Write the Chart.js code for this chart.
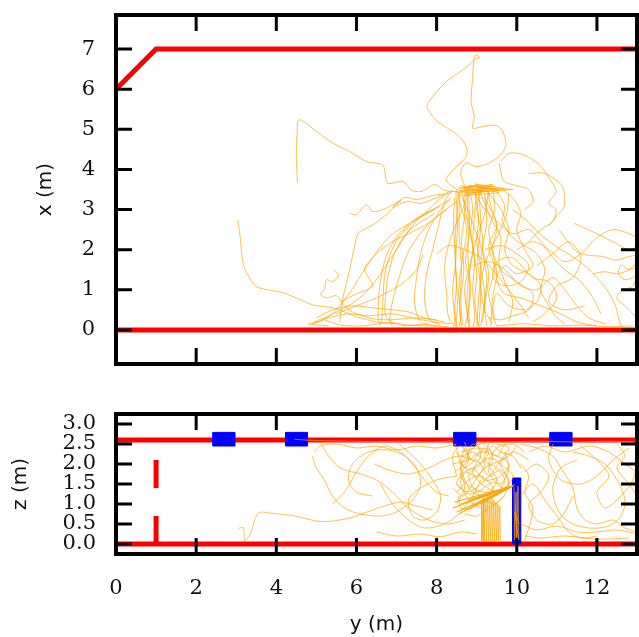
<!DOCTYPE html>
<html><head><meta charset="utf-8">
<script src="https://cdn.jsdelivr.net/npm/chart.js@4.4.1/dist/chart.umd.min.js"></script>
<style>
html,body{margin:0;padding:0;background:#fff;width:639px;height:637px;overflow:hidden}
#top{position:absolute;left:0;top:0}
#bot{position:absolute;left:0;top:380px}
</style></head><body>
<canvas id="top" width="639" height="380"></canvas>
<canvas id="bot" width="639" height="257"></canvas>
<script>
// ---------- axis ticks ----------
const yAxisTicks = [0,2,4,6,8,10,12];          // horizontal axis "y (m)"
const xAxisTicks = [0,1,2,3,4,5,6,7];          // top panel vertical "x (m)"
const zAxisTicks = [0,0.5,1,1.5,2,2.5,3];      // bottom panel vertical "z (m)"

// ---------- room geometry ----------
const wallFloorTop = [[0,0],[13,0]];
const wallSideTop = [[0,6],[1,7],[13,7]];
const floorLine = [[0,0],[13,0]];
const ceilingLine = [[0,2.6],[13,2.6]];
const doorLow = [[1,0],[1,0.7]];
const doorHigh = [[1,1.4],[1,2.1]];
const lampLeft = [2.42,4.23,8.43,10.83];
const lampRight = [2.97,4.78,8.98,11.38];
const lampBottom = 2.45, lampTop = 2.79;
const barY = [9.9,10.1], barZ = [0,1.65];

// ---------- top panel trajectories [y, x] ----------
const tp1 = [[3.04,2.74],[3.1,2.3],[3.17,1.66],[3.3,1.35],[3.5,1.08],[3.9,0.98],[4.17,0.93],[4.6,0.75],[4.92,0.62],[5.4,0.55],[5.7,0.45],[6.0,0.33],[6.5,0.2],[7.0,0.15]];
const tp2 = [[4.53,3.66],[4.5,4.3],[4.52,4.9],[4.57,5.24],[5.0,4.95],[5.42,4.65],[5.83,4.45],[6.24,4.2],[6.66,4.1],[6.78,3.66],[7.16,3.7],[7.36,3.49],[7.61,3.45],[7.95,3.62],[8.2,3.48],[8.5,3.45],[8.8,3.52]];
const tp3 = [[8.5,3.5],[8.24,3.74],[8.49,4.07],[8.74,4.32],[8.74,4.57],[8.57,4.82],[8.24,5.05],[7.99,5.22],[7.82,5.45],[7.76,5.6],[7.94,5.86],[8.24,6.19],[8.65,6.48],[8.9,6.69],[8.98,6.86],[9.07,6.78],[8.94,6.73],[8.9,6.28],[8.86,5.69],[8.94,5.32],[8.9,5.03],[9.15,5.07],[9.48,5.1],[9.65,4.95],[9.73,4.61],[9.6,4.37],[9.31,4.16],[8.98,4.07],[8.73,4.16],[8.6,3.9],[8.7,3.6]];
const tp4 = [[5.83,2.91],[6.0,2.87],[6.24,3.12],[6.41,2.95],[6.66,3.0],[6.91,3.12],[7.12,3.24],[6.9,3.05],[7.2,3.3],[7.5,3.25],[7.9,3.35],[8.3,3.4]];
const tp5 = [[5.58,0.2],[5.67,0.83],[5.83,1.49],[5.95,2.08],[6.04,2.41],[6.16,2.49],[6.41,2.62],[6.74,2.87],[7.0,3.1],[7.3,3.2],[7.6,3.15],[8.0,3.3],[8.4,3.45]];
const tp6 = [[8.07,3.08],[7.57,2.83],[7.07,2.41],[6.74,1.83],[6.58,1.08],[6.54,0.25],[6.6,0.1]];
const tp7 = [[8.24,3.0],[7.74,2.58],[7.32,2.0],[7.07,1.33],[6.91,0.75],[6.83,0.25],[6.9,0.1]];
const tp8 = [[8.32,3.24],[7.49,2.75],[6.83,2.33],[6.25,1.58],[5.83,0.92],[5.42,0.42],[5.08,0.21],[4.8,0.15],[5.3,0.1]];
const tp9 = [[7.95,3.0],[7.49,2.74],[7.07,2.33],[6.82,1.83],[6.7,1.33],[6.66,0.75],[6.62,0.17]];
const tp10 = [[7.95,2.9],[7.32,2.49],[6.99,2.0],[6.82,1.5],[6.74,1.0],[6.74,0.33],[7.1,0.12],[7.8,0.15]];
const tp11 = [[5.45,1.5],[5.55,1.35],[5.4,1.2],[5.25,1.25],[5.2,1.0],[5.1,0.9],[5.25,0.8],[5.5,0.85],[5.7,0.6],[5.9,0.45],[6.3,0.3],[6.8,0.25],[7.5,0.3],[8.0,0.25]];
const tp12 = [[4.9,0.15],[5.3,0.3],[5.8,0.4],[6.3,0.35],[6.9,0.4],[7.4,0.3],[7.9,0.2],[8.4,0.15]];
const tp13 = [[5.2,0.25],[5.6,0.12],[6.2,0.1],[6.8,0.18],[7.3,0.12],[7.8,0.1],[8.3,0.08]];
const tp14 = [[5.0,0.3],[5.4,0.5],[5.9,0.6],[6.4,0.55],[6.9,0.5],[7.3,0.45],[7.7,0.3],[8.2,0.2]];
const tv1 = [[8.55,3.4],[8.5,2.8],[8.45,2.0],[8.5,1.2],[8.45,0.5],[8.5,0.05]];
const tv2 = [[8.65,3.45],[8.7,2.9],[8.62,2.2],[8.68,1.5],[8.6,0.8],[8.65,0.1]];
const tv3 = [[8.75,3.5],[8.8,2.7],[8.9,2.0],[8.8,1.3],[8.75,0.6],[8.8,0.05]];
const tv4 = [[8.85,3.4],[8.9,3.0],[8.85,2.4],[8.95,1.8],[8.9,1.0],[8.95,0.3],[8.9,0.05]];
const tv5 = [[8.95,3.45],[9.05,2.8],[9.0,2.2],[9.1,1.5],[9.05,0.8],[9.0,0.1]];
const tv6 = [[9.1,3.5],[9.0,3.0],[9.15,2.3],[9.1,1.6],[9.2,0.9],[9.15,0.2]];
const tv7 = [[9.2,3.4],[9.25,2.7],[9.15,2.0],[9.25,1.3],[9.2,0.5],[9.25,0.1]];
const tv8 = [[8.5,3.5],[8.6,3.1],[8.75,2.5],[8.65,1.8],[8.55,1.0],[8.6,0.3],[8.55,0.05]];
const tv9 = [[9.3,3.45],[9.2,2.9],[9.0,2.3],[8.85,1.7],[8.7,1.0],[8.8,0.2]];
const tv10 = [[8.6,3.4],[8.85,2.8],[9.1,2.1],[9.3,1.4],[9.2,0.7],[9.1,0.1]];
const tv11 = [[8.45,3.3],[8.42,2.5],[8.48,1.8],[8.4,1.0],[8.45,0.3],[8.42,0.05]];
const tv12 = [[9.4,3.5],[9.45,3.0],[9.3,2.5],[9.4,1.9],[9.5,1.4],[9.4,0.8],[9.35,0.1]];
const tv13 = [[8.7,3.55],[8.72,3.0],[8.8,2.4],[8.72,1.7],[8.85,1.1],[8.78,0.4],[8.7,0.05]];
const tv14 = [[9.0,3.5],[8.95,2.9],[8.9,2.1],[9.0,1.4],[8.95,0.7],[9.05,0.05]];
const tv15 = [[8.48,3.45],[8.52,2.6],[8.47,1.6],[8.52,0.7],[8.48,0.05]];
const tv16 = [[8.58,3.5],[8.56,2.5],[8.62,1.5],[8.57,0.5],[8.62,0.05]];
const tv17 = [[9.05,3.5],[9.1,2.6],[9.02,1.8],[9.1,1.0],[9.05,0.05]];
const tv18 = [[8.8,3.45],[8.82,2.6],[8.78,1.9],[8.83,1.2],[8.8,0.5],[8.83,0.05]];
const tv19 = [[9.25,3.55],[9.35,3.1],[9.5,2.6],[9.3,2.1],[9.45,1.5],[9.3,0.9],[9.45,0.3]];
const tl1 = [[9.3,3.4],[9.6,3.0],[9.8,2.5],[9.7,2.0],[9.9,1.6],[10.3,1.4],[10.6,1.1],[10.5,0.7],[10.2,0.5],[9.8,0.6],[9.5,0.9],[9.4,0.4],[9.5,0.1]];
const tl2 = [[9.5,3.45],[9.7,3.1],[9.65,2.7],[9.9,2.3],[10.2,2.1],[10.5,1.9],[10.7,1.5],[10.6,1.0],[10.8,0.6],[11.0,0.3],[11.2,0.15]];
const tl3 = [[9.2,3.3],[9.5,2.6],[9.4,2.0],[9.6,1.5],[10.0,1.2],[10.4,0.9],[10.3,0.5],[9.9,0.35],[9.6,0.25],[9.3,0.3]];
const tl4 = [[9.65,3.5],[9.9,3.3],[10.1,2.9],[10.0,2.5],[10.2,2.0],[10.4,1.6],[10.0,1.4],[9.7,1.6],[9.5,1.3],[9.7,0.9],[10.1,0.8],[10.6,0.6],[11.1,0.4],[11.5,0.2],[12.0,0.1]];
const tl5 = [[9.8,3.4],[9.75,2.9],[9.55,2.4],[9.3,1.9],[9.1,1.2],[9.2,0.5],[9.4,0.15]];
const tl6 = [[9.9,3.0],[10.23,2.74],[10.56,2.41],[10.98,2.08],[11.39,1.83],[11.72,1.58],[12.05,1.25],[12.3,0.92],[12.47,0.58],[12.55,0.25],[12.6,0.1]];
const tl7 = [[11.06,2.49],[11.31,2.16],[11.5,1.95],[11.72,1.87],[12.14,1.83],[12.47,1.74],[12.8,1.83],[13.0,1.87]];
const tl8 = [[11.43,2.66],[11.97,2.41],[12.47,2.16],[12.8,1.99],[13.0,2.08]];
const tl9 = [[13.0,1.58],[12.8,1.5],[12.6,1.62],[12.55,1.37],[12.72,1.25],[12.97,1.33],[12.88,1.08],[12.65,1.0],[12.5,0.8],[12.7,0.6],[12.9,0.4],[13.0,0.3]];
const tl10 = [[11.9,1.4],[12.2,1.45],[12.5,1.4],[12.8,1.5],[13.0,1.7]];
const tl11 = [[9.6,4.2],[9.81,4.4],[10.15,4.37],[10.56,4.12],[10.81,3.78],[10.98,3.45],[10.8,3.16],[10.98,2.99],[10.9,2.7],[10.6,2.5],[10.3,2.2]];
const tl12 = [[10.3,3.9],[10.7,3.9],[11.14,3.57],[11.18,3.07],[11.0,2.85],[10.8,2.6]];
const tl13 = [[9.56,4.16],[9.6,3.95],[9.69,3.7],[9.98,3.6],[10.3,3.5],[10.4,3.2],[10.2,3.0]];
const tl14 = [[9.2,2.0],[9.6,2.1],[10.0,1.9],[10.3,1.6],[10.1,1.2],[9.7,1.1],[9.4,1.3],[9.5,1.7],[9.9,1.8],[10.4,1.3],[10.8,1.2],[11.0,0.8],[10.7,0.4],[10.4,0.2]];
const tl15 = [[8.9,1.6],[9.3,1.7],[9.7,1.5],[10.1,1.1],[10.5,1.0],[10.9,1.3],[11.2,1.0],[11.5,0.6],[11.8,0.3],[12.2,0.15]];
const tl16 = [[9.5,0.1],[10.2,0.15],[10.9,0.1],[11.6,0.12],[12.3,0.08],[12.9,0.1]];
const tl17 = [[8.0,1.9],[8.3,2.1],[8.7,2.0],[9.1,1.8],[9.4,1.5],[9.8,1.0],[10.1,0.6],[10.3,0.3]];
const tl18 = [[8.4,3.5],[8.2,3.2],[8.05,2.6],[7.9,2.0],[7.75,1.4],[7.7,0.8],[7.8,0.3],[8.1,0.1]];
const tl19 = [[7.66,1.87],[7.5,1.5],[7.2,1.2],[6.9,1.0],[6.5,0.8],[6.0,0.6],[5.5,0.4]];
const tl20 = [[8.3,3.45],[7.9,3.1],[7.4,2.6],[7.0,2.0],[6.6,1.4],[6.2,0.9],[5.8,0.6],[5.3,0.35],[4.95,0.2]];
const tl21 = [[8.35,3.3],[8.1,3.0],[7.8,2.5],[7.6,1.9],[7.5,1.3],[7.45,0.7],[7.6,0.2],[8.0,0.1]];
const tl22 = [[9.1,3.4],[9.35,2.8],[9.6,2.3],[9.55,1.7],[9.7,1.2],[9.9,0.7],[9.8,0.2]];
const tl23 = [[8.8,3.4],[8.6,2.9],[8.35,2.3],[8.2,1.6],[8.25,0.9],[8.3,0.3],[8.5,0.08]];
const tl24 = [[8.9,3.5],[9.2,3.0],[9.5,2.7],[9.9,2.4],[10.3,2.5],[10.6,2.2],[10.9,1.8],[11.2,1.5],[11.6,1.2],[11.9,0.8],[12.1,0.4]];
const tl25 = [[10.0,2.0],[10.4,2.2],[10.8,2.0],[11.2,1.7],[11.6,1.9],[12.0,2.3],[12.4,2.5],[12.8,2.4],[13.0,2.3]];
const tl26 = [[10.5,1.6],[10.9,1.9],[11.3,2.2],[11.6,1.8],[11.4,1.3],[11.0,1.1],[10.8,0.7],[11.2,0.5],[11.7,0.6]];
const tl27 = [[5.6,0.7],[6.0,0.9],[6.4,1.1],[6.2,1.5],[6.5,1.9],[6.9,2.2],[7.3,2.4],[7.7,2.6],[8.1,2.9],[8.5,3.2]];
const tn1 = [[8.5,3.5],[9.0,3.6],[8.6,3.45],[9.3,3.55],[8.7,3.4],[9.5,3.5],[8.8,3.6],[9.6,3.48],[8.9,3.42],[9.9,3.5],[9.0,3.55],[9.4,3.62],[8.55,3.55]];
const tn2 = [[8.6,3.6],[9.2,3.45],[8.65,3.55],[9.45,3.58],[8.75,3.48],[9.7,3.52],[8.95,3.64],[9.55,3.42],[8.7,3.35],[9.25,3.5],[8.5,3.42]];

// ---------- bottom panel trajectories [y, z] ----------
const bp1 = [[3.06,0.39],[3.18,0.41],[3.21,0.08],[3.34,0.23],[3.55,0.77],[3.88,0.77],[4.46,0.7],[5.12,0.56],[5.79,0.64],[6.29,0.81],[6.7,0.95],[7.1,1.05],[7.5,0.95],[7.9,0.85]];
const bp2 = [[4.45,2.62],[4.7,2.6],[5.2,2.58],[5.8,2.57],[6.5,2.56],[7.2,2.57],[7.9,2.55],[8.4,2.58]];
const bp3 = [[9.0,2.56],[9.7,2.55],[10.4,2.57],[11.0,2.56],[11.6,2.55],[12.3,2.57],[13.0,2.55]];
const bp4 = [[4.95,2.3],[5.1,2.45],[5.5,2.5],[6.0,2.4],[6.5,2.45],[7.0,2.35],[7.5,2.45],[8.0,2.4],[8.5,2.5]];
const bp5 = [[4.9,2.2],[5.0,1.9],[5.2,1.6],[5.4,1.2],[5.7,0.9],[6.1,0.75],[6.6,0.7],[7.0,0.8],[7.4,1.1],[7.6,1.5],[7.5,1.9],[7.2,2.2],[6.8,2.35],[6.3,2.3],[5.9,2.0],[5.8,1.6],[6.0,1.3],[6.4,1.2]];
const bp6 = [[5.1,2.55],[5.3,2.2],[5.6,1.9],[6.1,1.75],[6.5,1.6],[6.9,1.3],[7.3,0.9],[7.8,0.6],[8.3,0.5],[8.7,0.6]];
const bp7 = [[5.4,1.0],[5.7,1.3],[6.0,1.8],[6.3,2.2],[6.7,2.45],[7.1,2.3],[7.4,2.0],[7.7,1.6],[8.0,1.3],[8.3,1.2]];
const bp8 = [[6.45,2.0],[6.8,1.85],[7.3,1.75],[7.8,1.9],[8.2,2.1],[8.6,2.2],[9.0,2.05]];
const bp9 = [[6.5,0.3],[7.0,0.2],[7.6,0.25],[8.1,0.18],[8.6,0.3],[9.0,0.25]];
const bp10 = [[6.6,1.5],[6.9,1.0],[7.3,0.6],[7.7,0.4],[8.2,0.5],[8.6,0.8],[8.9,1.2],[9.1,1.6]];
const bp11 = [[7.0,2.55],[7.3,2.3],[7.6,2.0],[7.9,1.6],[8.1,1.2],[8.0,0.8],[7.7,0.6],[7.4,0.7],[7.3,1.1],[7.6,1.4],[8.0,1.6],[8.5,1.7]];
const bd1 = [[8.45,2.5],[8.6,2.2],[8.9,2.3],[9.2,2.0],[9.0,1.7],[8.7,1.8],[8.5,1.5],[8.8,1.3],[9.1,1.5],[9.4,1.8],[9.6,2.1],[9.8,2.4],[9.5,2.5]];
const bd2 = [[8.5,1.0],[8.7,1.4],[8.6,1.9],[8.9,2.4],[9.2,2.5],[9.4,2.2],[9.3,1.8],[9.6,1.5],[9.8,1.9],[9.7,2.3]];
const bd3 = [[8.4,2.0],[8.8,2.1],[9.1,2.3],[9.5,2.2],[9.8,2.0],[9.6,1.7],[9.2,1.6],[8.9,1.9],[8.6,1.6],[8.8,1.1],[9.1,0.9]];
const bd4 = [[8.7,2.55],[8.8,2.1],[8.6,1.7],[8.9,1.4],[9.3,1.3],[9.5,1.6],[9.3,2.0],[9.5,2.4],[9.9,2.5],[10.2,2.3]];
const bd5 = [[9.0,2.55],[9.1,2.2],[8.9,1.8],[9.2,1.45],[9.6,1.3],[9.8,1.6],[9.6,2.0],[9.9,2.3],[10.3,2.1]];
const bd6 = [[8.5,1.3],[8.8,1.6],[9.1,1.7],[9.4,1.4],[9.2,1.1],[8.9,0.9],[8.6,0.9],[8.55,1.2]];
const bd7 = [[8.6,2.3],[9.0,2.4],[9.3,2.3],[9.1,2.0],[8.8,1.7],[9.0,1.3],[9.4,1.0],[9.7,1.2]];
const bd8 = [[9.3,2.5],[9.2,2.1],[9.5,1.9],[9.7,1.6],[9.5,1.3],[9.1,1.2],[8.8,1.4],[8.6,2.0],[8.7,2.4]];
const bd9 = [[8.45,1.8],[8.7,2.0],[8.9,2.5],[9.2,2.3],[9.4,2.45],[9.6,2.3],[9.9,2.2],[10.1,1.9]];
const bd10 = [[8.5,2.3],[8.7,1.9],[9.0,2.1],[9.3,1.7],[9.6,1.85],[9.8,1.5],[9.6,1.1],[9.3,0.9],[9.0,0.7],[8.7,0.75]];
const bd11 = [[8.4,1.4],[8.65,1.2],[8.9,1.5],[9.2,1.9],[9.5,2.05],[9.8,2.2],[10.0,2.45]];
const bd12 = [[9.7,2.5],[9.5,2.2],[9.2,2.4],[8.9,2.1],[8.6,2.45],[8.4,2.2],[8.5,1.7]];
const bd13 = [[8.55,2.1],[8.8,1.85],[9.05,2.0],[9.35,2.15],[9.65,1.95],[9.9,1.7],[9.7,1.4],[9.4,1.55],[9.1,1.35],[8.8,1.25],[8.5,1.5]];
const bfan = [[9.9,1.45],[8.4,0.9],[9.9,1.45],[8.5,0.8],[9.9,1.45],[8.6,1.0],[9.9,1.45],[8.7,0.85],[9.9,1.45],[8.8,1.1],[9.9,1.45],[8.9,0.95],[9.9,1.45],[9.0,1.15],[9.9,1.45],[9.1,1.0],[9.9,1.45],[9.2,1.2],[9.9,1.45],[8.45,1.05],[9.9,1.45],[8.55,0.75],[9.9,1.45],[9.3,1.15]];
const bvert = [[9.12,1.1],[9.13,0.05],[9.17,1.15],[9.18,0.05],[9.23,1.1],[9.24,0.05],[9.28,1.2],[9.29,0.05],[9.33,1.1],[9.34,0.05],[9.38,1.15],[9.39,0.05],[9.43,1.1],[9.44,0.05],[9.48,1.05],[9.49,0.05],[9.53,1.0],[9.54,0.05],[9.58,0.95],[9.59,0.05]];
const bbar = [[9.93,1.5],[9.95,0.1],[9.98,1.3],[10.0,0.1],[10.03,1.45],[10.05,0.1],[9.95,0.8],[10.06,0.5]];
const br1 = [[10.1,2.5],[10.5,2.4],[10.9,2.2],[11.1,1.9],[11.4,1.4],[11.5,0.9],[11.7,0.6],[12.0,0.5],[12.4,0.6],[12.7,0.4],[13.0,0.3]];
const br2 = [[11.4,2.3],[11.8,2.2],[12.2,2.0],[12.5,1.6],[12.7,1.1],[12.6,0.7],[12.3,0.45],[11.8,0.4],[11.3,0.55],[11.0,0.9],[10.9,1.4],[11.1,1.9],[11.5,2.1]];
const br3 = [[10.1,0.5],[10.5,0.35],[11.0,0.45],[11.5,0.3],[12.0,0.3],[12.5,0.35],[13.0,0.25]];
const br4 = [[10.2,1.8],[10.5,2.0],[10.8,1.7],[10.6,1.3],[10.3,1.0],[10.5,0.6],[10.9,0.5],[11.2,0.8],[11.4,1.2]];
const br5 = [[10.3,2.3],[10.7,2.45],[11.2,2.3],[11.8,2.45],[12.3,2.3],[12.7,2.0],[13.0,1.8]];
const br6 = [[11.6,2.45],[12.0,2.1],[12.3,1.7],[12.0,1.3],[12.2,0.9],[12.6,1.2],[12.9,1.6],[13.0,2.1]];
const br7 = [[10.1,1.2],[10.4,1.5],[10.7,1.1],[11.0,0.7],[11.3,0.3],[11.6,0.15],[12.0,0.2]];
const br8 = [[12.5,2.5],[12.7,2.2],[12.5,1.9],[12.8,1.5],[13.0,1.2]];
const br9 = [[10.2,0.2],[10.6,0.15],[11.2,0.2],[12.0,0.12],[12.8,0.15]];
const br10 = [[10.1,2.0],[10.3,1.7],[10.2,1.3],[10.4,0.9],[10.3,0.4],[10.2,0.1]];
const br11 = [[10.9,2.5],[10.8,2.1],[11.1,1.6],[11.6,1.5],[12.0,1.7],[12.4,2.1],[12.8,2.4]];

const topSmooth = [tp1,tp2,tp3,tp4,tp5,tp6,tp7,tp8,tp9,tp10,tp11,tp12,tp13,tp14,tv1,tv2,tv3,tv4,tv5,tv6,tv7,tv8,tv9,tv10,tv11,tv12,tv13,tv14,tv15,tv16,tv17,tv18,tv19,tl1,tl2,tl3,tl4,tl5,tl6,tl7,tl8,tl9,tl10,tl11,tl12,tl13,tl14,tl15,tl16,tl17,tl18,tl19,tl20,tl21,tl22,tl23,tl24,tl25,tl26,tl27];
const topSharp = [tn1,tn2];
const botSmooth = [bp1,bp2,bp3,bp4,bp5,bp6,bp7,bp8,bp9,bp10,bp11,bd1,bd2,bd3,bd4,bd5,bd6,bd7,bd8,bd9,bd10,bd11,bd12,bd13,br1,br2,br3,br4,br5,br6,br7,br8,br9,br10,br11];
const botSharp = [bfan,bvert,bbar];

// ---------- helpers ----------
const ORANGE = 'rgba(255,165,0,0.7)';
const pts = a => a.map(p => ({x:p[0], y:p[1]}));
const traj = (a,t) => ({data:pts(a), showLine:true, borderColor:ORANGE, borderWidth:1, pointRadius:0, tension:t, fill:false, order:1});
const red = a => ({data:pts(a), showLine:true, borderColor:'#ff0000', borderWidth:5, pointRadius:0, tension:0, fill:false, order:3});
const blueShape = a => ({data:pts(a), showLine:true, borderColor:'#0000ff', backgroundColor:'#0000ff', borderWidth:1, pointRadius:0, tension:0, fill:'shape', order:2});
const rect = (y0,y1,z0,z1) => [[y0,z0],[y1,z0],[y1,z1],[y0,z1],[y0,z0]];

const framePlugin = {
  id:'frame',
  afterDatasetsDraw(chart, args, o){
    const {ctx, chartArea:a, scales} = chart;
    ctx.save();
    ctx.strokeStyle = '#000'; ctx.lineWidth = 3; ctx.lineCap = 'butt';
    ctx.beginPath();
    o.hTicks.forEach(v => { const p = scales.x.getPixelForValue(v);
      ctx.moveTo(p,a.bottom); ctx.lineTo(p,a.bottom-o.len);
      ctx.moveTo(p,a.top); ctx.lineTo(p,a.top+o.len); });
    o.vTicks.forEach(v => { const p = scales.y.getPixelForValue(v);
      ctx.moveTo(a.left,p); ctx.lineTo(a.left+o.len,p);
      ctx.moveTo(a.right,p); ctx.lineTo(a.right-o.len,p); });
    ctx.stroke();
    ctx.lineWidth = 4;
    ctx.strokeRect(a.left, a.top, a.right-a.left, a.bottom-a.top);
    ctx.restore();
  }
};
const noPad = s => { s.paddingTop = 0; s.paddingBottom = 0; s.paddingLeft = 0; s.paddingRight = 0; };

const tickFont = {family:"'DejaVu Serif', serif", size:21};
const titleFont = {family:"'DejaVu Sans', sans-serif", size:20};
const INK = '#111';

// ---------- top chart ----------
const topDatasets = [
  red(wallFloorTop), red(wallSideTop),
  ...topSmooth.map(a => traj(a,0.3)),
  ...topSharp.map(a => traj(a,0))
];
new Chart(document.getElementById('top'), {
  type:'scatter',
  data:{datasets:topDatasets},
  options:{
    responsive:false, animation:false, events:[],
    layout:{padding:{top:15,right:2,bottom:0,left:0}},
    plugins:{legend:{display:false}, tooltip:{enabled:false},
      frame:{hTicks:yAxisTicks, vTicks:xAxisTicks, len:16}},
    scales:{
      x:{type:'linear', min:0, max:13, position:'bottom',
        grid:{display:false, drawTicks:false}, border:{display:false},
        ticks:{display:false},
        afterFit(s){ s.height = 16; noPad(s); }},
      y:{type:'linear', min:-0.85, max:7.85, position:'left',
        grid:{display:false, drawTicks:false}, border:{display:false},
        afterBuildTicks(s){ s.ticks = xAxisTicks.map(v => ({value:v})); },
        ticks:{font:tickFont, color:INK, padding:21, autoSkip:false},
        title:{display:true, text:'x (m)', font:titleFont, color:INK, padding:{top:34,bottom:0}},
        afterFit(s){ s.width = 116; noPad(s); }}
    }
  },
  plugins:[framePlugin]
});

// ---------- bottom chart ----------
const botDatasets = [
  red(floorLine), red(ceilingLine), red(doorLow), red(doorHigh),
  ...lampLeft.map((l,i) => blueShape(rect(l, lampRight[i], lampBottom, lampTop))),
  blueShape(rect(barY[0], barY[1], barZ[0], barZ[1])),
  ...botSmooth.map(a => traj(a,0.3)),
  ...botSharp.map(a => traj(a,0))
];
new Chart(document.getElementById('bot'), {
  type:'scatter',
  data:{datasets:botDatasets},
  options:{
    responsive:false, animation:false, events:[],
    layout:{padding:{top:34,right:2,bottom:0,left:0}},
    plugins:{legend:{display:false}, tooltip:{enabled:false},
      frame:{hTicks:yAxisTicks, vTicks:zAxisTicks, len:16}},
    scales:{
      x:{type:'linear', min:0, max:13, position:'bottom',
        grid:{display:false, drawTicks:false}, border:{display:false},
        afterBuildTicks(s){ s.ticks = yAxisTicks.map(v => ({value:v})); },
        ticks:{font:tickFont, color:INK, padding:22, autoSkip:false, maxRotation:0, callback:v => String(v)},
        title:{display:true, text:'y (m)', font:titleFont, color:INK, padding:{top:0,bottom:0}},
        afterFit(s){ s.height = 83; noPad(s); }},
      y:{type:'linear', min:-0.25, max:3.25, position:'left',
        grid:{display:false, drawTicks:false}, border:{display:false},
        afterBuildTicks(s){ s.ticks = zAxisTicks.map(v => ({value:v})); },
        ticks:{font:tickFont, color:INK, padding:20, autoSkip:false, callback:v => Number(v).toFixed(1)},
        title:{display:true, text:'z (m)', font:titleFont, color:INK, padding:{top:9,bottom:0}},
        afterFit(s){ s.width = 116; noPad(s); }}
    }
  },
  plugins:[framePlugin]
});
</script>
</body></html>
